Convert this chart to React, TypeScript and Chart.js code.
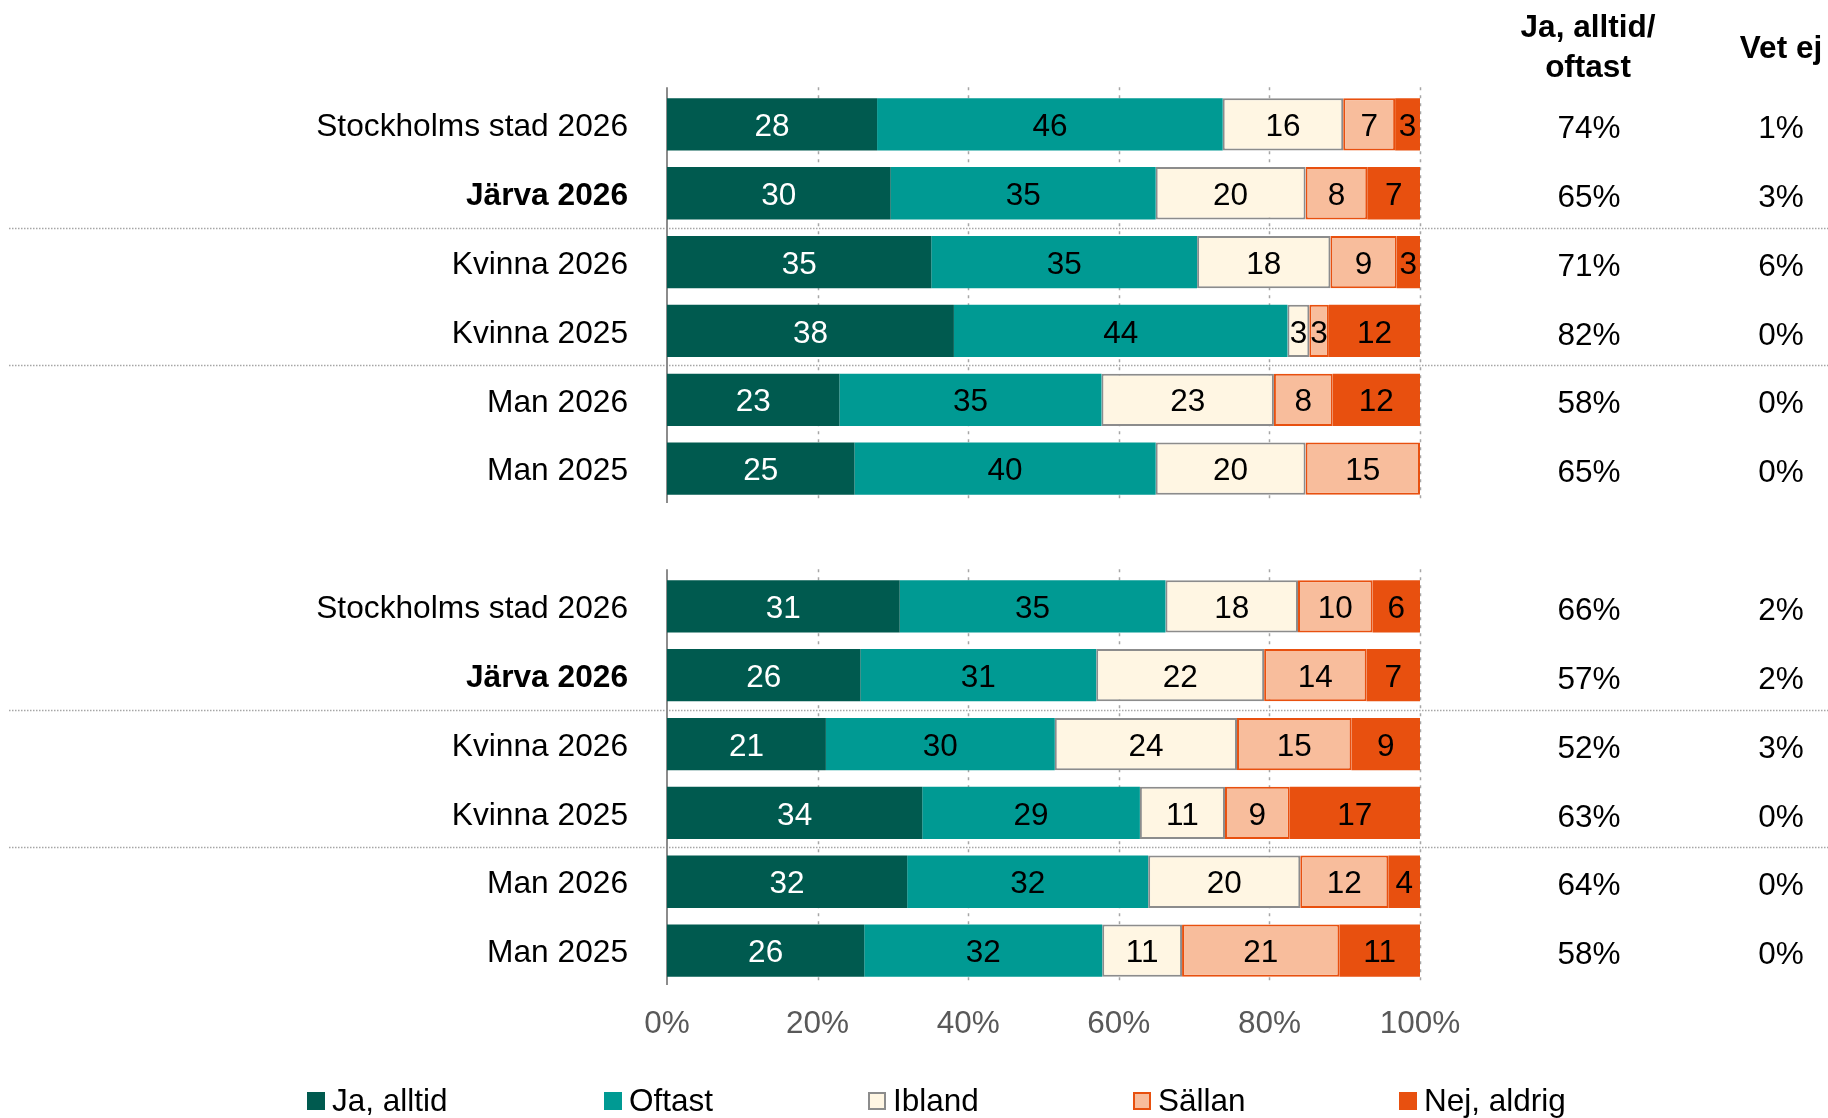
import React, { useEffect, useRef } from "react";
import { Chart, registerables } from "chart.js";

Chart.register(...registerables);

const FONT = "'Liberation Sans', Arial, Helvetica, sans-serif";

const categories = [
  "Stockholms stad 2026", "Järva 2026", "Kvinna 2026", "Kvinna 2025", "Man 2026", "Man 2025",
  "",
  "Stockholms stad 2026", "Järva 2026", "Kvinna 2026", "Kvinna 2025", "Man 2026", "Man 2025",
];
const boldCategories = ["Järva 2026"];

const jaAlltid = [27.9, 29.7, 35.1, 38.1, 22.9, 24.9, null, 30.9, 25.7, 21.1, 33.9, 31.9, 26.2];
const oftast = [45.9, 35.2, 35.3, 44.3, 34.8, 40.0, null, 35.3, 31.3, 30.4, 28.9, 32.0, 31.6];
const ibland = [16.0, 19.9, 17.7, 2.9, 22.9, 19.9, null, 17.6, 22.3, 24.2, 11.3, 20.2, 10.6];
const sallan = [6.9, 8.2, 8.8, 2.6, 7.8, 15.2, null, 9.9, 13.6, 15.2, 8.6, 11.7, 20.9];
const nejAldrig = [3.3, 7.0, 3.1, 12.1, 11.6, 0, null, 6.3, 7.1, 9.1, 17.3, 4.2, 10.7];

const jaOftastPct = [74, 65, 71, 82, 58, 65, null, 66, 57, 52, 63, 64, 58];
const vetEjPct = [1, 3, 6, 0, 0, 0, null, 2, 2, 3, 0, 0, 0];

const seriesNames = ["Ja, alltid", "Oftast", "Ibland", "Sällan", "Nej, aldrig"];
const xTicks = [0, 20, 40, 60, 80, 100];
const headerJaOftast = ["Ja, alltid/", "oftast"];
const headerVetEj = "Vet ej";

// layout / style
const fills = ["#005A4F", "#009A93", "#FFF6E3", "#F8BD9C", "#E8500F"];
const borders = ["#005A4F", "#009A93", "#8C8C8C", "#E8500F", "#E8500F"];
const borderWidths = [0, 0, 2, 2, 0];
const labelColors = ["#FFFFFF", "#000000", "#000000", "#000000", "#000000"];
const groups = [[0, 5], [7, 12]];
const separatorsAfter = [1, 3, 8, 10];
const legendX = [307, 604, 868, 1133, 1399];

const overlayPlugin = {
  id: "overlay",
  beforeDatasetsDraw(chart: any) {
    const { ctx, scales } = chart;
    const x = scales.x;
    const y = scales.y;
    const step = y.getPixelForValue(1) - y.getPixelForValue(0);
    ctx.save();
    // separators
    ctx.strokeStyle = "#A6A6A6";
    ctx.lineWidth = 1.5;
    ctx.setLineDash([1.5, 1.5]);
    separatorsAfter.forEach((i) => {
      const py = Math.round((y.getPixelForValue(i) + y.getPixelForValue(i + 1)) / 2) + 0.5;
      ctx.beginPath();
      ctx.moveTo(9, py);
      ctx.lineTo(1828, py);
      ctx.stroke();
    });
    groups.forEach(([a, b]) => {
      const top = y.getPixelForValue(a) - 0.54 * step;
      const bot = y.getPixelForValue(b) + 0.5 * step;
      ctx.strokeStyle = "#A6A6A6";
      ctx.lineWidth = 1.5;
      ctx.setLineDash([3, 5]);
      xTicks.slice(1).forEach((t) => {
        const px = Math.round(x.getPixelForValue(t)) + 0.5;
        ctx.beginPath();
        ctx.moveTo(px, top);
        ctx.lineTo(px, bot);
        ctx.stroke();
      });
      ctx.setLineDash([]);
      ctx.strokeStyle = "#8C8C8C";
      ctx.lineWidth = 2;
      const px0 = x.getPixelForValue(0);
      ctx.beginPath();
      ctx.moveTo(px0, top);
      ctx.lineTo(px0, bot);
      ctx.stroke();
    });
    ctx.restore();
  },
  afterDatasetsDraw(chart: any) {
    const { ctx, scales } = chart;
    const y = scales.y;
    ctx.save();
    ctx.font = `31.5px ${FONT}`;
    ctx.textAlign = "center";
    ctx.textBaseline = "middle";
    chart.data.datasets.forEach((ds: any, di: number) => {
      const meta = chart.getDatasetMeta(di);
      meta.data.forEach((bar: any, i: number) => {
        const v = ds.data[i];
        if (v == null || v <= 0) return;
        const cx = (bar.x + bar.base) / 2;
        ctx.fillStyle = labelColors[di];
        ctx.fillText(String(Math.round(v)), cx, bar.y + 3);
      });
    });
    // right columns
    ctx.fillStyle = "#000000";
    categories.forEach((c, i) => {
      const py = y.getPixelForValue(i) + 5;
      if (jaOftastPct[i] != null) ctx.fillText(jaOftastPct[i] + "%", 1589, py);
      if (vetEjPct[i] != null) ctx.fillText(vetEjPct[i] + "%", 1781, py);
    });
    // headers
    ctx.font = `bold 31.5px ${FONT}`;
    ctx.textBaseline = "alphabetic";
    ctx.fillText(headerJaOftast[0], 1588, 37);
    ctx.fillText(headerJaOftast[1], 1588, 77);
    ctx.fillText(headerVetEj, 1781, 58);
    // legend
    ctx.font = `31.5px ${FONT}`;
    ctx.textAlign = "left";
    ctx.textBaseline = "middle";
    seriesNames.forEach((name, k) => {
      const lx = legendX[k];
      const top = 1092;
      ctx.fillStyle = fills[k];
      ctx.fillRect(lx, top, 18, 18);
      if (borderWidths[k] > 0) {
        ctx.strokeStyle = borders[k];
        ctx.lineWidth = 2;
        ctx.strokeRect(lx + 1, top + 1, 16, 16);
      }
      ctx.fillStyle = "#000000";
      ctx.fillText(name, lx + 25, 1102);
    });
    ctx.restore();
  },
};

export default function App() {
  const ref = useRef<HTMLCanvasElement | null>(null);
  useEffect(() => {
    if (!ref.current) return;
    const seriesData = [jaAlltid, oftast, ibland, sallan, nejAldrig];
    const chart = new Chart(ref.current, {
      type: "bar",
      data: {
        labels: categories,
        datasets: seriesData.map((d, k) => ({
          label: seriesNames[k],
          data: d as any,
          backgroundColor: fills[k],
          borderColor: borders[k],
          borderWidth: borderWidths[k],
          borderSkipped: false,
          barPercentage: 0.76,
          categoryPercentage: 1,
        })),
      },
      options: {
        indexAxis: "y",
        animation: false,
        responsive: false,
        devicePixelRatio: 1,
        events: [],
        layout: { padding: { top: 90, right: 408, left: 0, bottom: 0 } },
        plugins: { legend: { display: false }, tooltip: { enabled: false } },
        scales: {
          x: {
            stacked: true,
            min: 0,
            max: 100,
            grid: { display: false },
            border: { display: false },
            afterFit: (s: any) => { s.height = 133; },
            ticks: {
              stepSize: 20,
              padding: 12,
              color: "#595959",
              font: { family: FONT, size: 31.5 },
              callback: (v: any) => v + "%",
            },
          },
          y: {
            stacked: true,
            grid: { display: false },
            border: { display: false },
            afterFit: (s: any) => { s.width = 667; },
            ticks: {
              autoSkip: false,
              padding: 31,
              labelOffset: 3,
              color: "#000000",
              font: (c: any) => ({
                family: FONT,
                size: 31.7,
                weight: boldCategories.includes(categories[c.index]) ? "bold" : "normal",
              }),
            },
          },
        },
      },
      plugins: [overlayPlugin],
    });
    return () => chart.destroy();
  }, []);
  return (
    <div style={{ position: "absolute", left: 0, top: 0, width: 1828, height: 1118, background: "#fff" }}>
      <canvas ref={ref} width={1828} height={1118} style={{ display: "block" }} />
    </div>
  );
}
